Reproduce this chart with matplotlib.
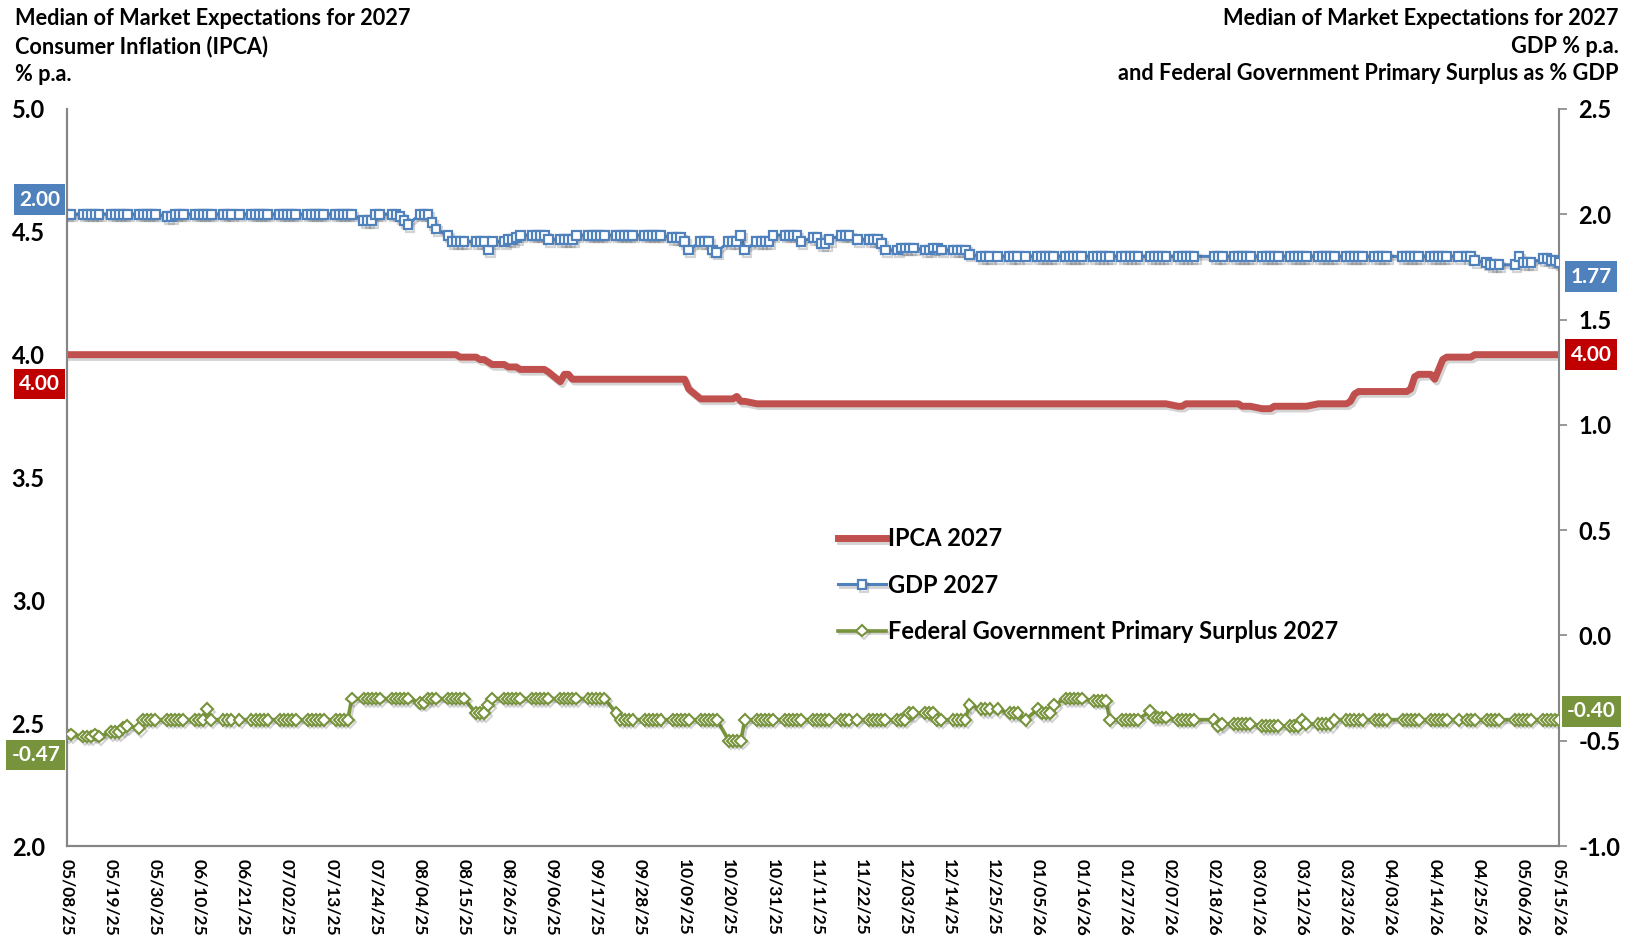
import matplotlib
matplotlib.use("Agg")
import matplotlib.pyplot as plt
import matplotlib.patheffects as pe
import pandas as pd

# business days of the Focus survey (Brazilian holidays removed)
start_date = "2025-05-08"
end_date = "2026-05-15"
holidays = ["2025-06-19", "2025-11-20", "2025-12-25", "2026-01-01", "2026-02-16",
            "2026-02-17", "2026-04-03", "2026-04-21", "2026-05-01"]

# one row per week (Mon..Fri, holidays skipped)
ipca_weeks = [
    [4.00, 4.00],
    [4.00, 4.00, 4.00, 4.00, 4.00],
    [4.00, 4.00, 4.00, 4.00, 4.00],
    [4.00, 4.00, 4.00, 4.00, 4.00],
    [4.00, 4.00, 4.00, 4.00, 4.00],
    [4.00, 4.00, 4.00, 4.00, 4.00],
    [4.00, 4.00, 4.00, 4.00],
    [4.00, 4.00, 4.00, 4.00, 4.00],
    [4.00, 4.00, 4.00, 4.00, 4.00],
    [4.00, 4.00, 4.00, 4.00, 4.00],
    [4.00, 4.00, 4.00, 4.00, 4.00],
    [4.00, 4.00, 4.00, 4.00, 4.00],
    [4.00, 4.00, 4.00, 4.00, 4.00],
    [4.00, 4.00, 4.00, 4.00, 4.00],
    [4.00, 4.00, 4.00, 3.99, 3.99],
    [3.99, 3.98, 3.98, 3.97, 3.96],
    [3.96, 3.95, 3.95, 3.95, 3.94],
    [3.94, 3.94, 3.94, 3.94, 3.93],
    [3.89, 3.92, 3.92, 3.90, 3.90],
    [3.90, 3.90, 3.90, 3.90, 3.90],
    [3.90, 3.90, 3.90, 3.90, 3.90],
    [3.90, 3.90, 3.90, 3.90, 3.90],
    [3.90, 3.90, 3.90, 3.90, 3.86],
    [3.82, 3.82, 3.82, 3.82, 3.82],
    [3.82, 3.82, 3.83, 3.81, 3.81],
    [3.80, 3.80, 3.80, 3.80, 3.80],
    [3.80, 3.80, 3.80, 3.80, 3.80],
    [3.80, 3.80, 3.80, 3.80, 3.80],
    [3.80, 3.80, 3.80, 3.80],
    [3.80, 3.80, 3.80, 3.80, 3.80],
    [3.80, 3.80, 3.80, 3.80, 3.80],
    [3.80, 3.80, 3.80, 3.80, 3.80],
    [3.80, 3.80, 3.80, 3.80, 3.80],
    [3.80, 3.80, 3.80, 3.80],
    [3.80, 3.80, 3.80, 3.80],
    [3.80, 3.80, 3.80, 3.80, 3.80],
    [3.80, 3.80, 3.80, 3.80, 3.80],
    [3.80, 3.80, 3.80, 3.80, 3.80],
    [3.80, 3.80, 3.80, 3.80, 3.80],
    [3.80, 3.80, 3.80, 3.80, 3.80],
    [3.79, 3.79, 3.80, 3.80, 3.80],
    [3.80, 3.80, 3.80],
    [3.80, 3.80, 3.79, 3.79, 3.79],
    [3.78, 3.78, 3.78, 3.79, 3.79],
    [3.79, 3.79, 3.79, 3.79, 3.79],
    [3.80, 3.80, 3.80, 3.80, 3.80],
    [3.80, 3.81, 3.84, 3.85, 3.85],
    [3.85, 3.85, 3.85, 3.85],
    [3.85, 3.85, 3.86, 3.91, 3.92],
    [3.92, 3.90, 3.94, 3.98, 3.99],
    [3.99, 3.99, 3.99, 4.00],
    [4.00, 4.00, 4.00, 4.00],
    [4.00, 4.00, 4.00, 4.00, 4.00],
    [4.00, 4.00, 4.00, 4.00, 4.00],
]

gdp_weeks = [
    [2.00, 2.00],
    [2.00, 2.00, 2.00, 2.00, 2.00],
    [2.00, 2.00, 2.00, 2.00, 2.00],
    [2.00, 2.00, 2.00, 2.00, 2.00],
    [1.99, 1.99, 2.00, 2.00, 2.00],
    [2.00, 2.00, 2.00, 2.00, 2.00],
    [2.00, 2.00, 2.00, 2.00],
    [2.00, 2.00, 2.00, 2.00, 2.00],
    [2.00, 2.00, 2.00, 2.00, 2.00],
    [2.00, 2.00, 2.00, 2.00, 2.00],
    [2.00, 2.00, 2.00, 2.00, 2.00],
    [1.97, 1.97, 1.97, 2.00, 2.00],
    [2.00, 2.00, 1.99, 1.97, 1.95],
    [2.00, 2.00, 2.00, 1.96, 1.93],
    [1.90, 1.87, 1.87, 1.87, 1.87],
    [1.87, 1.87, 1.87, 1.83, 1.87],
    [1.87, 1.88, 1.88, 1.89, 1.90],
    [1.90, 1.90, 1.90, 1.90, 1.88],
    [1.88, 1.88, 1.88, 1.88, 1.90],
    [1.90, 1.90, 1.90, 1.90, 1.90],
    [1.90, 1.90, 1.90, 1.90, 1.90],
    [1.90, 1.90, 1.90, 1.90, 1.90],
    [1.89, 1.89, 1.89, 1.87, 1.83],
    [1.87, 1.87, 1.87, 1.83, 1.82],
    [1.87, 1.87, 1.87, 1.90, 1.83],
    [1.87, 1.87, 1.87, 1.87, 1.90],
    [1.90, 1.90, 1.90, 1.90, 1.87],
    [1.89, 1.89, 1.86, 1.86, 1.88],
    [1.90, 1.90, 1.90, 1.88],
    [1.88, 1.88, 1.88, 1.86, 1.83],
    [1.83, 1.84, 1.84, 1.84, 1.84],
    [1.83, 1.83, 1.84, 1.84, 1.83],
    [1.83, 1.83, 1.83, 1.83, 1.81],
    [1.80, 1.80, 1.80, 1.80],
    [1.80, 1.80, 1.80, 1.80],
    [1.80, 1.80, 1.80, 1.80, 1.80],
    [1.80, 1.80, 1.80, 1.80, 1.80],
    [1.80, 1.80, 1.80, 1.80, 1.80],
    [1.80, 1.80, 1.80, 1.80, 1.80],
    [1.80, 1.80, 1.80, 1.80, 1.80],
    [1.80, 1.80, 1.80, 1.80, 1.80],
    [1.80, 1.80, 1.80],
    [1.80, 1.80, 1.80, 1.80, 1.80],
    [1.80, 1.80, 1.80, 1.80, 1.80],
    [1.80, 1.80, 1.80, 1.80, 1.80],
    [1.80, 1.80, 1.80, 1.80, 1.80],
    [1.80, 1.80, 1.80, 1.80, 1.80],
    [1.80, 1.80, 1.80, 1.80],
    [1.80, 1.80, 1.80, 1.80, 1.80],
    [1.80, 1.80, 1.80, 1.80, 1.80],
    [1.80, 1.80, 1.80, 1.78],
    [1.77, 1.76, 1.76, 1.76],
    [1.76, 1.80, 1.77, 1.77, 1.77],
    [1.79, 1.79, 1.78, 1.78, 1.77],
]

surplus_weeks = [
    [-0.47, -0.47],
    [-0.48, -0.48, -0.48, -0.47, -0.48],
    [-0.46, -0.46, -0.46, -0.44, -0.43],
    [-0.44, -0.40, -0.40, -0.40, -0.40],
    [-0.40, -0.40, -0.40, -0.40, -0.40],
    [-0.40, -0.40, -0.40, -0.35, -0.40],
    [-0.40, -0.40, -0.40, -0.40],
    [-0.40, -0.40, -0.40, -0.40, -0.40],
    [-0.40, -0.40, -0.40, -0.40, -0.40],
    [-0.40, -0.40, -0.40, -0.40, -0.40],
    [-0.40, -0.40, -0.40, -0.40, -0.30],
    [-0.30, -0.30, -0.30, -0.30, -0.30],
    [-0.30, -0.30, -0.30, -0.30, -0.30],
    [-0.32, -0.32, -0.30, -0.30, -0.30],
    [-0.30, -0.30, -0.30, -0.30, -0.30],
    [-0.37, -0.37, -0.37, -0.33, -0.30],
    [-0.30, -0.30, -0.30, -0.30, -0.30],
    [-0.30, -0.30, -0.30, -0.30, -0.30],
    [-0.30, -0.30, -0.30, -0.30, -0.30],
    [-0.30, -0.30, -0.30, -0.30, -0.30],
    [-0.37, -0.40, -0.40, -0.40, -0.40],
    [-0.40, -0.40, -0.40, -0.40, -0.40],
    [-0.40, -0.40, -0.40, -0.40, -0.40],
    [-0.40, -0.40, -0.40, -0.40, -0.40],
    [-0.50, -0.50, -0.50, -0.50, -0.40],
    [-0.40, -0.40, -0.40, -0.40, -0.40],
    [-0.40, -0.40, -0.40, -0.40, -0.40],
    [-0.40, -0.40, -0.40, -0.40, -0.40],
    [-0.40, -0.40, -0.40, -0.40],
    [-0.40, -0.40, -0.40, -0.40, -0.40],
    [-0.40, -0.40, -0.40, -0.37, -0.37],
    [-0.37, -0.37, -0.37, -0.40, -0.40],
    [-0.40, -0.40, -0.40, -0.40, -0.33],
    [-0.35, -0.35, -0.35, -0.35],
    [-0.37, -0.37, -0.37, -0.40],
    [-0.35, -0.37, -0.37, -0.37, -0.33],
    [-0.30, -0.30, -0.30, -0.30, -0.30],
    [-0.31, -0.31, -0.31, -0.31, -0.40],
    [-0.40, -0.40, -0.40, -0.40, -0.40],
    [-0.36, -0.39, -0.39, -0.39, -0.39],
    [-0.40, -0.40, -0.40, -0.40, -0.40],
    [-0.40, -0.43, -0.42],
    [-0.42, -0.42, -0.42, -0.42, -0.42],
    [-0.43, -0.43, -0.43, -0.43, -0.43],
    [-0.43, -0.43, -0.43, -0.40, -0.42],
    [-0.42, -0.42, -0.42, -0.42, -0.40],
    [-0.40, -0.40, -0.40, -0.40, -0.40],
    [-0.40, -0.40, -0.40, -0.40],
    [-0.40, -0.40, -0.40, -0.40, -0.40],
    [-0.40, -0.40, -0.40, -0.40, -0.40],
    [-0.40, -0.40, -0.40, -0.40],
    [-0.40, -0.40, -0.40, -0.40],
    [-0.40, -0.40, -0.40, -0.40, -0.40],
    [-0.40, -0.40, -0.40, -0.40, -0.40],
]

tick_labels = ["05/08/25", "05/19/25", "05/30/25", "06/10/25", "06/21/25", "07/02/25",
               "07/13/25", "07/24/25", "08/04/25", "08/15/25", "08/26/25", "09/06/25",
               "09/17/25", "09/28/25", "10/09/25", "10/20/25", "10/31/25", "11/11/25",
               "11/22/25", "12/03/25", "12/14/25", "12/25/25", "01/05/26", "01/16/26",
               "01/27/26", "02/07/26", "02/18/26", "03/01/26", "03/12/26", "03/23/26",
               "04/03/26", "04/14/26", "04/25/26", "05/06/26", "05/15/26"]

ipca = [v for w in ipca_weeks for v in w]
gdp = [v for w in gdp_weeks for v in w]
surplus = [v for w in surplus_weeks for v in w]

dates = pd.bdate_range(start_date, end_date)
dates = dates[~dates.isin(pd.to_datetime(holidays))]
if not (len(dates) == len(ipca) == len(gdp) == len(surplus)):
    raise ValueError(f"length mismatch {len(dates)} {len(ipca)} {len(gdp)} {len(surplus)}")

RED = "#C0504D"
RED_BOX = "#C00000"
BLUE = "#4F81BD"
GREEN = "#77933C"
GRAY = "#868686"

plt.rcParams["font.family"] = ["Lato", "DejaVu Sans"]
plt.rcParams["font.weight"] = "bold"

fig = plt.figure(figsize=(16.38, 9.42), dpi=100)
ax = fig.add_axes([0.0409, 0.1019, 0.9109, 0.7824])
ax2 = ax.twinx()

shadow = [pe.SimpleLineShadow(offset=(1.5, -2), shadow_color="#555555", alpha=0.25), pe.Normal()]

l1, = ax.plot(dates, ipca, color=RED, lw=5, solid_joinstyle="round",
              label="IPCA 2027", path_effects=shadow, zorder=3)
l2, = ax2.plot(dates, gdp, color=BLUE, lw=2.2, marker="s", ms=6.3, mfc="white",
               mec=BLUE, mew=1.6, label="GDP 2027", path_effects=shadow, zorder=3)
l3, = ax2.plot(dates, surplus, color=GREEN, lw=2.6, marker="D", ms=6.0, mfc="white",
               mec=GREEN, mew=1.5, label="Federal Government Primary Surplus 2027",
               path_effects=shadow, zorder=3)

ax.set_xlim(pd.Timestamp(start_date), pd.Timestamp(end_date))
ax.set_ylim(2.0, 5.0)
ax2.set_ylim(-1.0, 2.5)
ax.set_yticks([2.0, 2.5, 3.0, 3.5, 4.0, 4.5, 5.0])
ax2.set_yticks([-1.0, -0.5, 0.0, 0.5, 1.0, 1.5, 2.0, 2.5])
ax.set_yticklabels([f"{v:.1f}" for v in ax.get_yticks()])
ax2.set_yticklabels([f"{v:.1f}" for v in ax2.get_yticks()])

tick_dates = pd.to_datetime(tick_labels, format="%m/%d/%y")
ax.set_xticks(tick_dates)
ax.set_xticklabels(tick_labels, rotation=270, ha="center", va="top", fontsize=12.5)

ax.tick_params(axis="y", length=0, pad=16, labelsize=17)
ax.tick_params(axis="x", length=0, pad=9)
ax2.tick_params(axis="y", length=6, width=1.2, color=GRAY, pad=8, labelsize=17)

for a in (ax, ax2):
    a.spines["top"].set_visible(False)
    for s in ("left", "right", "bottom"):
        a.spines[s].set_color(GRAY)
        a.spines[s].set_linewidth(1.5)
ax.spines["right"].set_visible(False)


# value boxes at both ends
def value_box(axis, xfrac, y, text, color, dy, ha):
    axis.annotate(text, xy=(xfrac, y), xycoords=axis.get_yaxis_transform(),
                  xytext=(0, dy), textcoords="offset points", ha=ha, va="center",
                  color="white", fontsize=15, fontweight="bold", annotation_clip=False,
                  bbox=dict(boxstyle="square,pad=0.25", fc=color, ec="none"), zorder=5)


value_box(ax2, -0.0045, gdp[0], f"{gdp[0]:.2f}", BLUE, 10.5, "right")
value_box(ax, -0.0045, ipca[0], f"{ipca[0]:.2f}", RED_BOX, -21, "right")
value_box(ax2, -0.0045, surplus[0], f"{surplus[0]:.2f}", GREEN, -15, "right")
value_box(ax2, 1.0215, gdp[-1], f"{gdp[-1]:.2f}", BLUE, -10, "center")
value_box(ax, 1.0215, ipca[-1], f"{ipca[-1]:.2f}", RED_BOX, 0, "center")
value_box(ax2, 1.0215, surplus[-1], f"{surplus[-1]:.2f}", GREEN, 6, "center")

leg = ax2.legend(handles=[l1, l2, l3], loc="upper left",
                 bbox_to_anchor=(0.5027, 0.461), frameon=False, fontsize=17,
                 handlelength=2.0, handletextpad=0.1, labelspacing=0.98, numpoints=1)
for t in leg.get_texts():
    t.set_fontweight("bold")

fig.text(0.009, 0.991, "Median of Market Expectations for 2027\nConsumer Inflation (IPCA)\n% p.a.",
         ha="left", va="top", fontsize=15.7, fontweight="bold", linespacing=1.37)
fig.text(0.988, 0.991, "Median of Market Expectations for 2027\nGDP % p.a.\nand Federal Government Primary Surplus as % GDP",
         ha="right", va="top", fontsize=15.7, fontweight="bold", linespacing=1.37, multialignment="right")

fig.savefig("out.png", dpi=100)
